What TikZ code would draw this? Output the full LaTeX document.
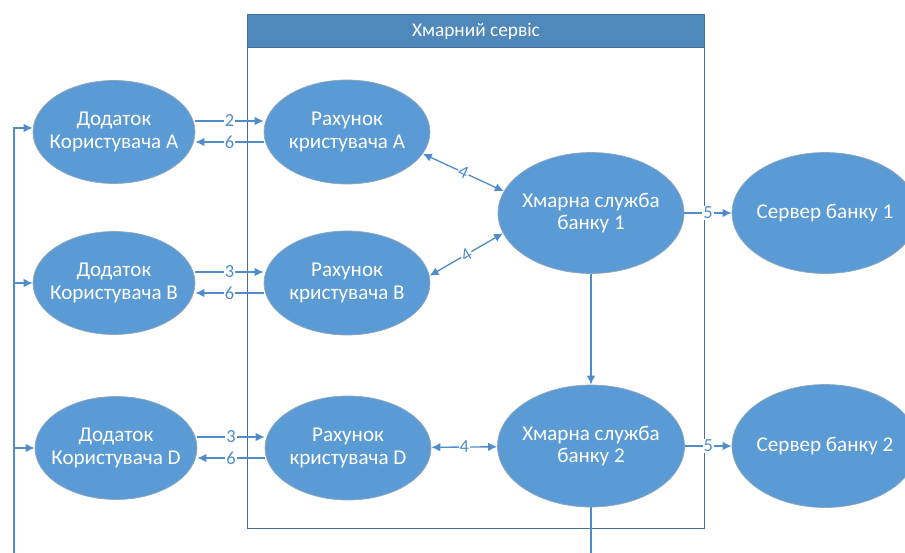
\documentclass[tikz,border=0pt]{standalone}
\usepackage{fontspec}
\setmainfont{Carlito}
\usetikzlibrary{shapes.geometric, arrows.meta, positioning}
\definecolor{ovalblue}{HTML}{5B9BD5}
\definecolor{ovaledge}{HTML}{8FA6BD}
\definecolor{lineblue}{HTML}{4F8CCB}
\definecolor{headblue}{HTML}{4F88BB}
\definecolor{boxblue}{HTML}{41719C}

\begin{document}
\begin{tikzpicture}[
  x=0.02cm, y=-0.02cm,
  ovalstyle/.style={ellipse, fill=ovalblue, draw=ovaledge, line width=0.4pt, inner xsep=-6mm, inner ysep=0pt, align=center, text=white, font=\fontsize{12}{13}\selectfont},
  cloudbox/.style={draw=boxblue, line width=0.6pt, fill=white, inner sep=0pt},
  cloudhead/.style={draw=boxblue, line width=0.6pt, fill=headblue, text=white, inner sep=0pt, font=\fontsize{11}{13}\selectfont},
  arrow/.style={-{Latex[length=1.8mm, width=1.7mm]}, draw=lineblue, line width=0.75pt},
  twoway/.style={{Latex[length=1.8mm, width=1.7mm]}-{Latex[length=1.8mm, width=1.7mm]}, draw=lineblue, line width=0.75pt},
  num/.style={fill=white, inner sep=0.6pt, text=lineblue, font=\fontsize{10.5}{12}\selectfont}
]
  \useasboundingbox (0,0) rectangle (905,553);
  \clip (0,0) rectangle (905,553);

  % cloud service frame
  \node[cloudbox, anchor=north west, minimum width=9.14cm, minimum height=10.28cm] (cloud) at (247,14) {};
  \node[cloudhead, anchor=north west, minimum width=9.14cm, minimum height=0.66cm] (title) at (247,14) {Хмарний сервіс};

  % user apps
  \node[ovalstyle, minimum width=3.24cm, minimum height=2.06cm] (appa) at (114,132) {Додаток\\Користувача A};
  \node[ovalstyle, minimum width=3.24cm, minimum height=2.06cm] (appb) at (114,283) {Додаток\\Користувача B};
  \node[ovalstyle, minimum width=3.24cm, minimum height=2.06cm] (appd) at (116,448) {Додаток\\Користувача D};

  % accounts
  \node[ovalstyle, minimum width=3.32cm, minimum height=2.08cm] (acca) at (347,132) {Рахунок\\кристувача A};
  \node[ovalstyle, minimum width=3.32cm, minimum height=2.08cm] (accb) at (347,283) {Рахунок\\кристувача B};
  \node[ovalstyle, minimum width=3.32cm, minimum height=2.08cm] (accd) at (348,448) {Рахунок\\кристувача D};

  % bank services and servers
  \node[ovalstyle, minimum width=3.72cm, minimum height=2.42cm] (bank1) at (591,213) {Хмарна служба\\банку 1};
  \node[ovalstyle, minimum width=3.74cm, minimum height=2.44cm] (bank2) at (591,446) {Хмарна служба\\банку 2};
  \node[ovalstyle, minimum width=3.72cm, minimum height=2.42cm] (srv1) at (825,213) {Сервер банку 1};
  \node[ovalstyle, minimum width=3.72cm, minimum height=2.46cm] (srv2) at (825,446) {Сервер банку 2};

  \draw[arrow] ([yshift=0.22cm]appa.east) -- node[num]{2} ([yshift=0.22cm]acca.west);
  \draw[arrow] ([yshift=-0.2cm]acca.west) -- node[num]{6} ([yshift=-0.2cm]appa.east);
  \draw[arrow] ([yshift=0.22cm]appb.east) -- node[num]{3} ([yshift=0.22cm]accb.west);
  \draw[arrow] ([yshift=-0.2cm]accb.west) -- node[num]{6} ([yshift=-0.2cm]appb.east);
  \draw[arrow] ([yshift=0.22cm]appd.east) -- node[num]{3} ([yshift=0.22cm]accd.west);
  \draw[arrow] ([yshift=-0.2cm]accd.west) -- node[num]{6} ([yshift=-0.2cm]appd.east);

  \draw[twoway] (acca.-16) -- node[num, sloped]{4} (bank1.166);
  \draw[twoway] (accb.5) -- node[num, sloped]{4} (bank1.193);
  \draw[twoway] (accd) -- node[num]{4} (bank2);

  \draw[arrow] (bank1) -- node[num]{5} (srv1);
  \draw[arrow] (bank2) -- node[num]{5} (srv2);
  \draw[arrow] (bank1) -- (bank2);

  % return path to the apps
  \coordinate (rail) at (14,600);
  \draw[arrow] (bank2.south) -- (bank2.south |- rail) -- (rail) |- ([yshift=0.08cm]appa.west);
  \draw[arrow] (rail |- appb.west) -- (appb.west);
  \draw[arrow] (rail |- appd.west) -- (appd.west);
\end{tikzpicture}
\end{document}
